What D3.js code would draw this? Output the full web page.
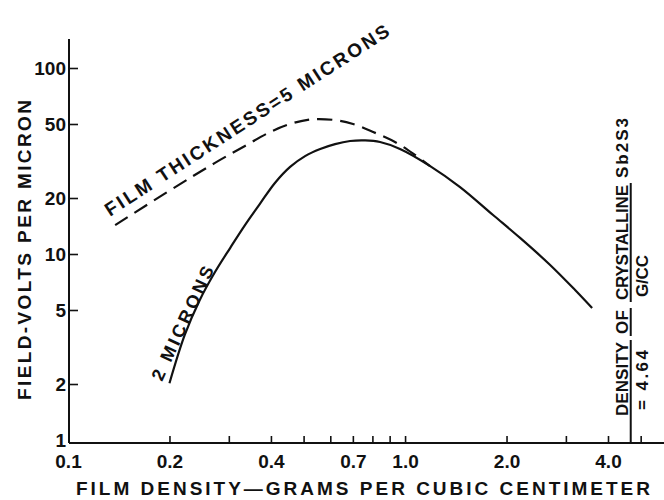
<!DOCTYPE html>
<html>
<head>
<meta charset="utf-8">
<script src="https://cdn.jsdelivr.net/npm/d3@7"></script>
<style>
  html, body { margin: 0; padding: 0; background: #fff; }
  text { font-family: "Liberation Sans", Arial, sans-serif; font-weight: bold; fill: #111; }
</style>
</head>
<body>
<div id="chart"></div>
<script>
const width = 664, height = 500;

// data (density g/cc, field V/micron)
const solidDensity = [0.2, 0.222, 0.246, 0.273, 0.303, 0.335, 0.371, 0.411, 0.456, 0.505, 0.56, 0.62, 0.687, 0.761, 0.843, 0.966, 1.187, 1.456, 1.824, 2.194, 2.694, 3.195, 3.589];
const solidField   = [2.02, 3.67, 5.66, 8.0, 10.8, 14.3, 18.6, 24.1, 29.4, 33.6, 36.7, 39.0, 40.5, 40.8, 40.0, 36.7, 29.7, 22.9, 16.2, 12.2, 8.73, 6.4, 5.12];

const dashDensity = [0.138, 0.208, 0.273, 0.335, 0.398, 0.456, 0.523, 0.62, 0.701, 0.804, 0.946, 1.07, 1.186];
const dashField   = [14.3, 22.9, 30.9, 38.1, 45.3, 50, 52.9, 52.5, 50, 45.3, 39.5, 34.1, 29.7];

const xTickMarks  = [0.2, 0.3, 0.4, 0.5, 0.6, 0.7, 0.8, 0.9, 1.0, 2.0, 3.0, 4.0, 5.0];
const xTickLabels = [0.1, 0.2, 0.4, 0.7, 1.0, 2.0, 4.0];
const yTickMarks  = [2, 5, 10, 20, 50, 100];
const yTickLabels = [1, 2, 5, 10, 20, 50, 100];
const crystalDensity = 4.64;

const svg = d3.select("#chart")
  .append("svg")
  .attr("width", width)
  .attr("height", height);

// log scales
const x = d3.scaleLog().domain([0.1, 4.0]).range([68, 608]);
const y = d3.scaleLog().domain([1, 100]).range([440, 68]);

const axisY = 443, axisX = 69;

// axis lines
svg.append("line")
  .attr("x1", axisX).attr("x2", width)
  .attr("y1", axisY).attr("y2", axisY)
  .attr("stroke", "#111").attr("stroke-width", 2);
svg.append("line")
  .attr("x1", axisX).attr("x2", axisX)
  .attr("y1", 39).attr("y2", axisY)
  .attr("stroke", "#111").attr("stroke-width", 2);

// x ticks (pointing up)
const xAxis = svg.append("g")
  .attr("transform", `translate(0,${axisY})`)
  .call(d3.axisBottom(x).tickValues(xTickMarks).tickSize(-7).tickFormat(""));
xAxis.select(".domain").remove();
xAxis.selectAll(".tick line").attr("stroke", "#111").attr("stroke-width", 1.6);

const xLab = svg.append("g")
  .attr("transform", `translate(0,${axisY})`)
  .call(d3.axisBottom(x).tickValues(xTickLabels).tickSize(0).tickPadding(12)
    .tickFormat(d => d.toFixed(1)));
xLab.select(".domain").remove();
xLab.selectAll("text")
  .attr("font-size", 19)
  .attr("font-family", "Liberation Sans, Arial, sans-serif")
  .attr("font-weight", "bold")
  .attr("fill", "#111");

// y ticks (pointing right)
const yAxis = svg.append("g")
  .attr("transform", `translate(${axisX},0)`)
  .call(d3.axisLeft(y).tickValues(yTickMarks).tickSize(-9).tickFormat(""));
yAxis.select(".domain").remove();
yAxis.selectAll(".tick line").attr("stroke", "#111").attr("stroke-width", 1.6);

const yLab = svg.append("g")
  .attr("transform", `translate(${axisX},0)`)
  .call(d3.axisLeft(y).tickValues(yTickLabels).tickSize(0).tickPadding(3)
    .tickFormat(d3.format("d")));
yLab.select(".domain").remove();
yLab.selectAll("text")
  .attr("font-size", 19)
  .attr("font-family", "Liberation Sans, Arial, sans-serif")
  .attr("font-weight", "bold")
  .attr("fill", "#111");

// curves
const line = d3.line()
  .x(d => x(d[0]))
  .y(d => y(d[1]))
  .curve(d3.curveCatmullRom);

svg.append("path")
  .datum(d3.zip(solidDensity, solidField))
  .attr("d", line)
  .attr("fill", "none")
  .attr("stroke", "#111")
  .attr("stroke-width", 2.2);

svg.append("path")
  .datum(d3.zip(dashDensity, dashField))
  .attr("d", line)
  .attr("fill", "none")
  .attr("stroke", "#111")
  .attr("stroke-width", 2.2)
  .attr("stroke-dasharray", "15,8");

// curve labels
svg.append("text")
  .attr("transform", "translate(110,217) rotate(-33)")
  .attr("font-size", 19)
  .attr("textLength", 335)
  .attr("lengthAdjust", "spacing")
  .text("FILM THICKNESS=5  MICRONS");

svg.append("text")
  .attr("transform", "translate(162,382) rotate(-65)")
  .attr("font-size", 18)
  .attr("textLength", 124)
  .attr("lengthAdjust", "spacing")
  .text("2 MICRONS");

// axis titles
svg.append("text")
  .attr("transform", "translate(31,250) rotate(-90)")
  .attr("text-anchor", "middle")
  .attr("font-size", 19)
  .attr("textLength", 300)
  .attr("lengthAdjust", "spacing")
  .text("FIELD-VOLTS PER MICRON");

svg.append("text")
  .attr("x", 363).attr("y", 495)
  .attr("text-anchor", "middle")
  .attr("font-size", 19)
  .attr("textLength", 574)
  .attr("lengthAdjust", "spacing")
  .text("FILM DENSITY\u2014GRAMS PER CUBIC CENTIMETER");

// crystalline density marker
const xc = x(crystalDensity);
const note = [
  { t: "DENSITY", y0: 416, y1: 342, under: true },
  { t: "OF", y0: 334, y1: 310, under: true },
  { t: "CRYSTALLINE", y0: 300, y1: 185, under: true },
  { t: "Sb2S3", y0: 178, y1: 118, under: false }
];
note.forEach(n => {
  svg.append("text")
    .attr("transform", `translate(${xc - 2},${n.y0}) rotate(-90)`)
    .attr("font-size", 17)
    .attr("textLength", n.y0 - n.y1)
    .attr("lengthAdjust", "spacing")
    .text(n.t);
  if (n.under) {
    svg.append("line")
      .attr("x1", xc + 1).attr("x2", xc + 1)
      .attr("y1", n.t === "DENSITY" ? axisY : n.y0 + 2).attr("y2", n.y1 - 2)
      .attr("stroke", "#111").attr("stroke-width", 2);
  }
});

svg.append("text")
  .attr("transform", `translate(${xc + 18},410) rotate(-90)`)
  .attr("font-size", 17)
  .attr("textLength", 60)
  .attr("lengthAdjust", "spacing")
  .text("= 4.64");

svg.append("text")
  .attr("transform", `translate(${xc + 18},297) rotate(-90)`)
  .attr("font-size", 17)
  .attr("textLength", 42)
  .attr("lengthAdjust", "spacing")
  .text("G/CC");
</script>
</body>
</html>
